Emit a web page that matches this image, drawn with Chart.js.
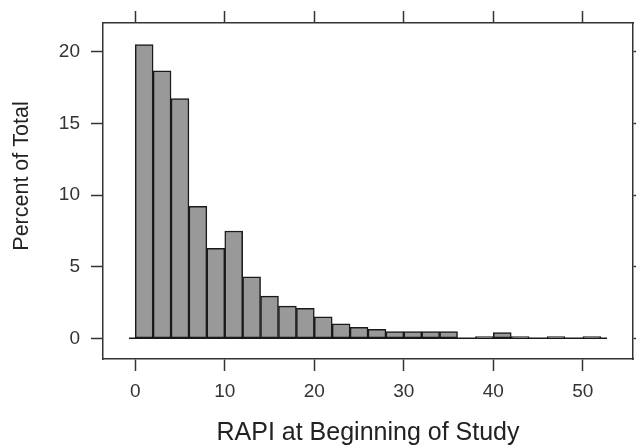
<!DOCTYPE html>
<html lang="en">
<head>
    <meta charset="UTF-8">
    <title>RAPI histogram</title>
    <script src="https://cdn.jsdelivr.net/npm/chart.js"></script>
    <style>
        body { margin: 0; background: #fff; }
        #wrap { width: 636px; height: 448px; }
    </style>
</head>
<body>
<div id="wrap"><canvas id="hist" width="636" height="448"></canvas></div>

<script>
    // histogram bins: width 2, from 0 to 52 (bin centres)
    const binCenters = [1, 3, 5, 7, 9, 11, 13, 15, 17, 19, 21, 23, 25, 27, 29, 31, 33, 35, 37, 39, 41, 43, 45, 47, 49, 51];
    const percents   = [20.5, 18.67, 16.72, 9.21, 6.28, 7.49, 4.3, 2.95, 2.25, 2.09, 1.51, 1.02, 0.77, 0.63,
                        0.47, 0.47, 0.47, 0.47, 0, 0.12, 0.4, 0.12, 0, 0.12, 0, 0.12];
    const baselineX  = [-0.7, 52.7];
    const xTicks     = [0, 10, 20, 30, 40, 50];
    const yTicks     = [0, 5, 10, 15, 20];
    const xRange     = [-3.6, 55.6];
    const yRange     = [-1.44, 22.0];

    const FONT = "'Liberation Sans', Arial, sans-serif";
    const INK = '#333333';

    function fixTicks(list) {
        return scale => { scale.ticks = list.map(v => ({ value: v })); };
    }

    function axisGrid() {
        return {
            display: true,
            offset: false,
            drawOnChartArea: false,
            drawTicks: true,
            tickLength: 12,
            tickWidth: 1.5,
            tickColor: INK
        };
    }

    // y axis title drawn by hand so it sits where the original puts it
    const yTitlePlugin = {
        id: 'yTitle',
        afterDraw(chart) {
            const ctx = chart.ctx;
            ctx.save();
            ctx.translate(22, 176);
            ctx.rotate(-Math.PI / 2);
            ctx.font = '21.5px ' + FONT;
            ctx.fillStyle = '#222222';
            ctx.textAlign = 'center';
            ctx.textBaseline = 'middle';
            ctx.fillText('Percent of Total', 0, 0);
            ctx.restore();
        }
    };

    const ctx = document.getElementById('hist').getContext('2d');
    new Chart(ctx, {
        data: {
            datasets: [{
                type: 'line',
                data: baselineX.map(x => ({ x: x, y: 0 })),
                borderColor: '#1a1a1a',
                borderWidth: 1.5,
                pointRadius: 0,
                xAxisID: 'x',
                yAxisID: 'y',
                order: 2
            }, {
                type: 'bar',
                data: binCenters.map((c, i) => ({ x: c, y: percents[i] })),
                backgroundColor: '#999999',
                borderColor: '#1a1a1a',
                borderWidth: 1.5,
                borderSkipped: false,
                categoryPercentage: 1,
                barPercentage: 1,
                xAxisID: 'x',
                yAxisID: 'y',
                order: 1
            }]
        },
        options: {
            responsive: false,
            animation: false,
            devicePixelRatio: 1,
            layout: { padding: 0 },
            plugins: {
                legend: { display: false },
                tooltip: { enabled: false }
            },
            scales: {
                x: {
                    type: 'linear',
                    position: 'bottom',
                    offset: false,
                    min: xRange[0],
                    max: xRange[1],
                    afterBuildTicks: fixTicks(xTicks),
                    afterFit: s => { s.height = 89; },
                    grid: axisGrid(),
                    border: { display: true, color: INK, width: 1.5 },
                    ticks: { color: INK, padding: 9, maxRotation: 0, font: { family: FONT, size: 19 } },
                    title: {
                        display: true,
                        text: 'RAPI at Beginning of Study',
                        color: '#222222',
                        padding: { top: 0, bottom: 0 },
                        font: { family: FONT, size: 25 }
                    }
                },
                x2: {
                    type: 'linear',
                    position: 'top',
                    offset: false,
                    min: xRange[0],
                    max: xRange[1],
                    afterBuildTicks: fixTicks(xTicks),
                    afterFit: s => { s.height = 23; },
                    grid: axisGrid(),
                    border: { display: true, color: INK, width: 1.5 },
                    ticks: { display: false }
                },
                y: {
                    type: 'linear',
                    position: 'left',
                    offset: false,
                    min: yRange[0],
                    max: yRange[1],
                    afterBuildTicks: fixTicks(yTicks),
                    afterFit: s => { s.width = 103; },
                    grid: axisGrid(),
                    border: { display: true, color: INK, width: 1.5 },
                    ticks: { color: INK, padding: 11, font: { family: FONT, size: 19 } }
                },
                y2: {
                    type: 'linear',
                    position: 'right',
                    offset: false,
                    min: yRange[0],
                    max: yRange[1],
                    afterBuildTicks: fixTicks(yTicks),
                    afterFit: s => { s.width = 3; },
                    grid: axisGrid(),
                    border: { display: true, color: INK, width: 1.5 },
                    ticks: { display: false }
                }
            }
        },
        plugins: [yTitlePlugin]
    });
</script>
</body>
</html>
